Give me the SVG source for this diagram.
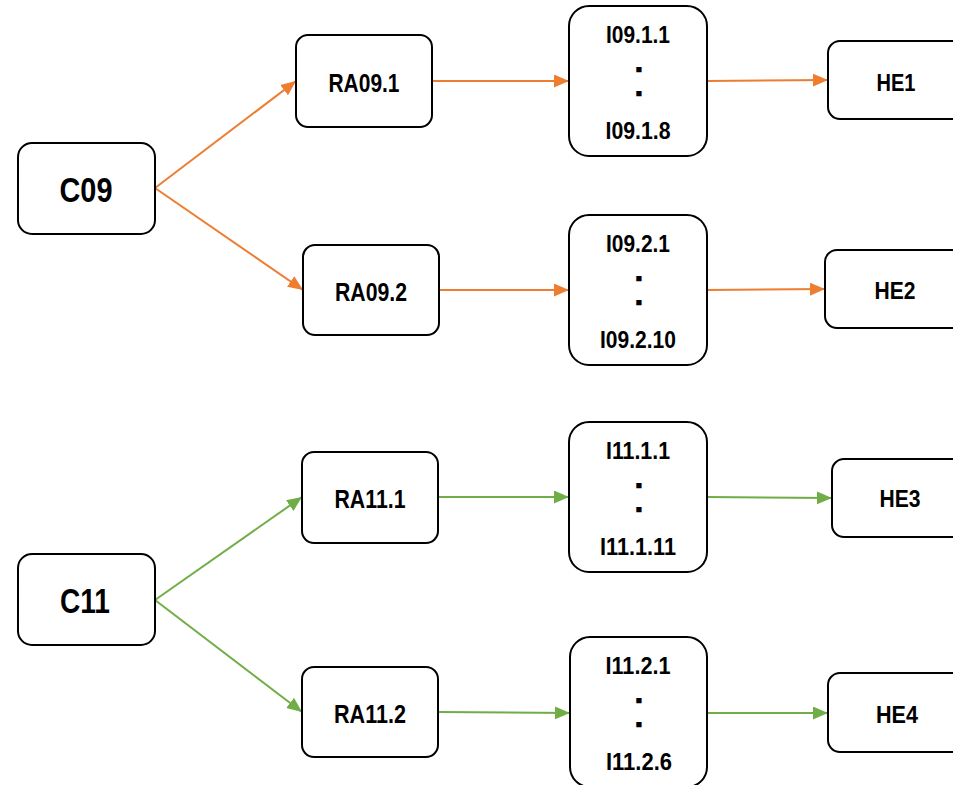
<svg xmlns="http://www.w3.org/2000/svg" width="953" height="785" viewBox="0 0 953 785">
<style>
  .box { fill: #fff; stroke: #000; stroke-width: 2; }
  text { font-family: "Liberation Sans", Arial, sans-serif; font-weight: bold; fill: #000; text-anchor: middle; }
  .c { font-size: 35px; }
  .ra { font-size: 26px; }
  .i { font-size: 24px; }
  .he { font-size: 24px; }
  .dot { font-size: 19px; stroke: #000; stroke-width: 2.6; stroke-linejoin: miter; }
  .or { stroke: #ED7D31; stroke-width: 2; fill: none; marker-end: url(#ao); }
  .gr { stroke: #70AD47; stroke-width: 2; fill: none; marker-end: url(#ag); }
</style>
<defs>
  <marker id="ao" markerUnits="userSpaceOnUse" markerWidth="16" markerHeight="14" refX="15" refY="6.5" orient="auto">
    <path d="M0,0 L15,6.5 L0,13 z" fill="#ED7D31"/>
  </marker>
  <marker id="ag" markerUnits="userSpaceOnUse" markerWidth="16" markerHeight="14" refX="15" refY="6.5" orient="auto">
    <path d="M0,0 L15,6.5 L0,13 z" fill="#70AD47"/>
  </marker>
</defs>
<rect width="953" height="785" fill="#fff"/>
<g id="connectors">
  <line class="or" x1="155" y1="188" x2="296" y2="81"/>
  <line class="or" x1="155" y1="188" x2="303" y2="290"/>
  <line class="or" x1="432" y1="81" x2="569" y2="81"/>
  <line class="or" x1="707" y1="81" x2="828" y2="80"/>
  <line class="or" x1="439" y1="290" x2="569" y2="290"/>
  <line class="or" x1="707" y1="290" x2="825" y2="289"/>
  <line class="gr" x1="155" y1="600" x2="302" y2="497"/>
  <line class="gr" x1="155" y1="600" x2="302" y2="712"/>
  <line class="gr" x1="438" y1="497" x2="569" y2="497"/>
  <line class="gr" x1="707" y1="497" x2="832" y2="498"/>
  <line class="gr" x1="438" y1="712" x2="570" y2="713"/>
  <line class="gr" x1="707" y1="713" x2="828" y2="713"/>
</g>
<g id="C09">
  <rect class="box" x="18" y="143" width="137" height="91" rx="14"/>
  <text class="c" x="86" y="202" textLength="53" lengthAdjust="spacingAndGlyphs">C09</text>
</g>
<g id="C11">
  <rect class="box" x="18" y="554" width="137" height="91" rx="14"/>
  <text class="c" x="85" y="613" textLength="50" lengthAdjust="spacingAndGlyphs">C11</text>
</g>
<g id="RA09.1">
  <rect class="box" x="296" y="35" width="136" height="92" rx="12"/>
  <text class="ra" x="364" y="92" textLength="71" lengthAdjust="spacingAndGlyphs">RA09.1</text>
</g>
<g id="RA09.2">
  <rect class="box" x="303" y="245" width="136" height="90" rx="12"/>
  <text class="ra" x="371" y="301" textLength="72" lengthAdjust="spacingAndGlyphs">RA09.2</text>
</g>
<g id="RA11.1">
  <rect class="box" x="302" y="452" width="136" height="91" rx="12"/>
  <text class="ra" x="370" y="508" textLength="71" lengthAdjust="spacingAndGlyphs">RA11.1</text>
</g>
<g id="RA11.2">
  <rect class="box" x="302" y="667" width="136" height="90" rx="12"/>
  <text class="ra" x="370" y="723" textLength="72" lengthAdjust="spacingAndGlyphs">RA11.2</text>
</g>
<g id="I09.1">
  <rect class="box" x="569" y="6" width="138" height="150" rx="20"/>
  <text class="i" x="638" y="43" textLength="64" lengthAdjust="spacingAndGlyphs">I09.1.1</text>
  <text class="dot" x="639" y="71">.</text>
  <text class="dot" x="639" y="95">.</text>
  <text class="i" x="638" y="139" textLength="65" lengthAdjust="spacingAndGlyphs">I09.1.8</text>
</g>
<g id="I09.2">
  <rect class="box" x="569" y="215" width="138" height="150" rx="20"/>
  <text class="i" x="638" y="252" textLength="64" lengthAdjust="spacingAndGlyphs">I09.2.1</text>
  <text class="dot" x="639" y="280">.</text>
  <text class="dot" x="639" y="304">.</text>
  <text class="i" x="638" y="348" textLength="76" lengthAdjust="spacingAndGlyphs">I09.2.10</text>
</g>
<g id="I11.1">
  <rect class="box" x="569" y="422" width="138" height="150" rx="20"/>
  <text class="i" x="638" y="459" textLength="64" lengthAdjust="spacingAndGlyphs">I11.1.1</text>
  <text class="dot" x="639" y="487">.</text>
  <text class="dot" x="639" y="511">.</text>
  <text class="i" x="638" y="555" textLength="76" lengthAdjust="spacingAndGlyphs">I11.1.11</text>
</g>
<g id="I11.2">
  <rect class="box" x="570" y="637" width="137" height="150" rx="20"/>
  <text class="i" x="638" y="674" textLength="65" lengthAdjust="spacingAndGlyphs">I11.2.1</text>
  <text class="dot" x="639" y="702">.</text>
  <text class="dot" x="639" y="726">.</text>
  <text class="i" x="639" y="770" textLength="66" lengthAdjust="spacingAndGlyphs">I11.2.6</text>
</g>
<g id="HE1">
  <rect class="box" x="828" y="41" width="142" height="78" rx="12"/>
  <text class="he" x="896" y="91" textLength="39" lengthAdjust="spacingAndGlyphs">HE1</text>
</g>
<g id="HE2">
  <rect class="box" x="825" y="250" width="145" height="78" rx="12"/>
  <text class="he" x="895" y="299" textLength="41" lengthAdjust="spacingAndGlyphs">HE2</text>
</g>
<g id="HE3">
  <rect class="box" x="832" y="459" width="140" height="78" rx="12"/>
  <text class="he" x="900" y="507" textLength="41" lengthAdjust="spacingAndGlyphs">HE3</text>
</g>
<g id="HE4">
  <rect class="box" x="828" y="673" width="142" height="79" rx="12"/>
  <text class="he" x="897" y="723" textLength="42" lengthAdjust="spacingAndGlyphs">HE4</text>
</g>
</svg>
